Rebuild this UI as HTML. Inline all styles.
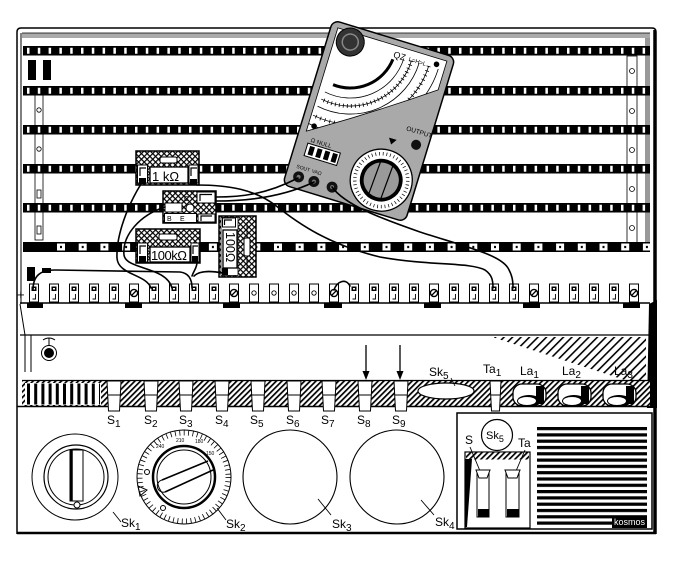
<!DOCTYPE html>
<html><head><meta charset="utf-8">
<style>
html,body{margin:0;padding:0;background:#fff;width:681px;height:561px;overflow:hidden}
svg{display:block}
text{font-family:"Liberation Sans",sans-serif;fill:#000}
</style></head><body>
<svg width="681" height="561" viewBox="0 0 681 561" xmlns="http://www.w3.org/2000/svg">
<defs>
 <pattern id="hatch" width="4" height="4" patternUnits="userSpaceOnUse" patternTransform="rotate(45)">
  <rect width="4" height="4" fill="#fff"/><rect width="1.7" height="4" fill="#000"/>
 </pattern>
 <pattern id="xhatch" width="4" height="4" patternUnits="userSpaceOnUse" patternTransform="rotate(45)">
  <rect width="4" height="4" fill="#fff"/><rect width="1.2" height="4" fill="#000"/><rect width="4" height="1.2" fill="#000"/>
 </pattern>
 <pattern id="shade" width="6" height="6" patternUnits="userSpaceOnUse" patternTransform="rotate(45)">
  <rect width="6" height="6" fill="#fff"/><rect width="1.6" height="6" fill="#000"/>
 </pattern>
 <pattern id="term" x="0" y="0" width="20" height="561" patternUnits="userSpaceOnUse">
  <rect x="9.5" y="284" width="9" height="18" fill="#fff" stroke="#000" stroke-width="1"/>
  <rect x="11.5" y="286.5" width="5" height="4.5" fill="#000"/>
  <rect x="13" y="288" width="2" height="1.5" fill="#fff"/>
  <path d="M15.5,294 V299 H12.5" fill="none" stroke="#000" stroke-width="0.9"/>
 </pattern>
 <pattern id="grille" x="0" y="427" width="10" height="6.3" patternUnits="userSpaceOnUse">
  <rect width="10" height="3.2" fill="#000"/>
 </pattern>
 <clipPath id="fc"><path d="M-57,-80 H57 V-50 Q0,-8 -57,28 Z"/></clipPath>
</defs>

<!-- frame -->
<path d="M17,534 V32 Q17,28 21,28 H652 Q656,28 656,32 V534" fill="none" stroke="#000" stroke-width="1.5"/>
<line x1="21" y1="33" x2="21" y2="304" stroke="#000" stroke-width="1"/>
<rect x="22" y="33" width="628" height="5" fill="#aaa"/>
<line x1="22" y1="33" x2="650" y2="33" stroke="#000" stroke-width="0.8"/>
<rect x="645" y="38" width="5" height="212" fill="#999"/>
<line x1="654.5" y1="30" x2="654.5" y2="534" stroke="#000" stroke-width="2.5"/>

<!-- side strips -->
<rect x="28" y="60" width="8" height="20" fill="#000"/>
<rect x="43" y="60" width="8" height="20" fill="#000"/>
<rect x="35" y="95" width="8" height="145" fill="#fff" stroke="#000" stroke-width="0.8"/>
<g fill="#fff" stroke="#000" stroke-width="0.8">
 <circle cx="39" cy="110" r="2.2"/><circle cx="39" cy="149" r="2.2"/>
 <rect x="37" y="190" width="4" height="8"/><rect x="37" y="226" width="4" height="8"/>
</g>
<rect x="627" y="56" width="10" height="189" fill="#fff" stroke="#000" stroke-width="0.8"/>
<g fill="#fff" stroke="#000" stroke-width="0.8">
 <circle cx="632" cy="71" r="2.5"/><circle cx="632" cy="111" r="2.5"/><circle cx="632" cy="150" r="2.5"/>
 <circle cx="632" cy="189" r="2.5"/><circle cx="632" cy="228" r="2.5"/>
</g>

<!-- rails -->
<g>
 <rect x="23" y="46" width="627" height="9.5" fill="#000"/>
 <line x1="23" y1="50.75" x2="650" y2="50.75" stroke="#fff" stroke-width="6" stroke-dasharray="2.5 8.3" stroke-dashoffset="-4"/>
 <rect x="23" y="86" width="627" height="9.5" fill="#000"/>
 <line x1="23" y1="90.75" x2="650" y2="90.75" stroke="#fff" stroke-width="6" stroke-dasharray="2.5 8.3" stroke-dashoffset="-4"/>
 <rect x="23" y="125" width="627" height="9.5" fill="#000"/>
 <line x1="23" y1="129.75" x2="650" y2="129.75" stroke="#fff" stroke-width="6" stroke-dasharray="2.5 8.3" stroke-dashoffset="-4"/>
 <rect x="23" y="164" width="627" height="9.5" fill="#000"/>
 <line x1="23" y1="168.75" x2="650" y2="168.75" stroke="#fff" stroke-width="6" stroke-dasharray="2.5 8.3" stroke-dashoffset="-4"/>
 <rect x="23" y="203" width="627" height="9.5" fill="#000"/>
 <line x1="23" y1="207.75" x2="650" y2="207.75" stroke="#fff" stroke-width="6" stroke-dasharray="2.5 8.3" stroke-dashoffset="-4"/>
 <rect x="23" y="242" width="627" height="10" fill="#000"/>
 <line x1="57" y1="247" x2="650" y2="247" stroke="#fff" stroke-width="7" stroke-dasharray="8 13.7"/>
 <line x1="60" y1="247" x2="650" y2="247" stroke="#000" stroke-width="2.2" stroke-dasharray="2 19.7"/>
</g>

<!-- terminal strip -->
<rect x="27" y="267" width="8" height="14" fill="#000"/>
<rect x="42" y="268" width="9" height="5" fill="#000"/>
<text x="17" y="299" font-size="13">+</text>
<rect x="28" y="283" width="612" height="20" fill="url(#term)"/>
<g fill="#fff" stroke="#000">
 <g stroke-width="1"><rect x="129.5" y="284" width="9" height="18"/><rect x="229.5" y="284" width="9" height="18"/><rect x="329.5" y="284" width="9" height="18"/><rect x="429.5" y="284" width="9" height="18"/><rect x="529.5" y="284" width="9" height="18"/><rect x="629.5" y="284" width="9" height="18"/>
 <rect x="249.5" y="284" width="9" height="18"/><rect x="269.5" y="284" width="9" height="18"/><rect x="289.5" y="284" width="9" height="18"/><rect x="309.5" y="284" width="9" height="18"/></g>
 <g stroke-width="1.4"><circle cx="134" cy="293" r="3.6"/><circle cx="234" cy="293" r="3.6"/><circle cx="334" cy="293" r="3.6"/><circle cx="434" cy="293" r="3.6"/><circle cx="534" cy="293" r="3.6"/><circle cx="634" cy="293" r="3.6"/></g>
 <g stroke-width="0.9"><circle cx="254" cy="293" r="2.2"/><circle cx="274" cy="293" r="2.2"/><circle cx="294" cy="293" r="2.2"/><circle cx="314" cy="293" r="2.2"/></g>
</g>
<path d="M131.5,295.5 L136.5,290.5 M231.5,295.5 L236.5,290.5 M331.5,295.5 L336.5,290.5 M431.5,295.5 L436.5,290.5 M531.5,295.5 L536.5,290.5 M631.5,295.5 L636.5,290.5" stroke="#000" stroke-width="1.3"/>
<g fill="#000">
 <rect x="27" y="302.5" width="16" height="5.5"/><rect x="125" y="302.5" width="17" height="5.5"/><rect x="223" y="302.5" width="17" height="5.5"/>
 <rect x="324" y="302.5" width="18" height="5.5"/><rect x="424" y="302.5" width="17" height="5.5"/><rect x="523" y="302.5" width="17" height="5.5"/><rect x="623" y="302.5" width="17" height="5.5"/>
</g>
<line x1="20" y1="303" x2="650" y2="303" stroke="#000" stroke-width="1.5"/>

<!-- components -->
<g stroke="#000">
 <!-- 1k -->
 <rect x="136" y="151" width="63" height="34" fill="url(#xhatch)" stroke-width="1.5"/>
 <rect x="160" y="157" width="17" height="6" rx="2" fill="#fff" stroke-width="1"/>
 <rect x="137.5" y="165" width="10" height="18" fill="#fff" stroke-width="1"/>
 <path d="M146,168 H140 V176" fill="none" stroke-width="1.2"/>
 <rect x="139" y="178" width="7" height="6" fill="#000" stroke="none"/>
 <rect x="150" y="167" width="38" height="16" fill="#fff" stroke-width="1.3"/>
 <rect x="189" y="165" width="9" height="18" fill="#fff" stroke-width="1"/>
 <path d="M197,168 H191 V176" fill="none" stroke-width="1.2"/>
 <rect x="190" y="179" width="7" height="6" fill="#000" stroke="none"/>
 <!-- transistor -->
 <rect x="163" y="191" width="53" height="32" fill="url(#xhatch)" stroke-width="1.5"/>
 <rect x="197" y="192" width="18" height="11" fill="#fff" stroke-width="1"/>
 <path d="M212,194.5 H200 V201" fill="none" stroke-width="1.2"/>
 <rect x="165" y="203" width="17" height="9" fill="#fff" stroke-width="1"/>
 <circle cx="190" cy="208" r="4" fill="#fff" stroke-width="1"/>
 <rect x="164.5" y="213.5" width="32" height="9" fill="#fff" stroke-width="1"/>
 <rect x="198" y="214" width="17" height="8" fill="#fff" stroke-width="1"/>
 <path d="M212,216 H201 V221" fill="none" stroke-width="1.2"/>
 <!-- 100k -->
 <rect x="136" y="229" width="64" height="34" fill="url(#xhatch)" stroke-width="1.5"/>
 <rect x="159" y="234" width="18" height="6" rx="2" fill="#fff" stroke-width="1"/>
 <rect x="137.5" y="243" width="10" height="19" fill="#fff" stroke-width="1"/>
 <path d="M146,246 H140 V254" fill="none" stroke-width="1.2"/>
 <rect x="139" y="256" width="7" height="6" fill="#000" stroke="none"/>
 <rect x="150" y="247" width="40" height="15" fill="#fff" stroke-width="1.3"/>
 <rect x="191" y="243" width="8" height="19" fill="#fff" stroke-width="1"/>
 <path d="M198,246 H193 V254" fill="none" stroke-width="1.2"/>
 <rect x="192" y="256" width="6" height="6" fill="#000" stroke="none"/>
 <!-- 100 ohm -->
 <rect x="219" y="216" width="37" height="61" fill="url(#xhatch)" stroke-width="1.5"/>
 <rect x="221" y="217.5" width="17" height="58" fill="#fff" stroke-width="0.8"/>
 <rect x="222.5" y="218" width="13" height="9" fill="#fff" stroke-width="1"/>
 <path d="M224.5,225 V220 H232" fill="none" stroke-width="1.2"/>
 <rect x="223" y="230" width="14" height="38" fill="#fff" stroke-width="1.3"/>
 <rect x="222" y="268" width="6" height="7" fill="#000" stroke="none"/>
 <line x1="247" y1="222" x2="247" y2="270" stroke-width="1"/>
 <rect x="244" y="238" width="6" height="18" rx="2" fill="#fff" stroke-width="1"/>
</g>
<text x="152" y="181" font-size="13">1 kΩ</text>
<text x="151" y="260" font-size="13" letter-spacing="-0.5">100kΩ</text>
<text x="226" y="232" font-size="12.5" transform="rotate(90 226 232)">100Ω</text>
<text x="167" y="221" font-size="7">B</text><text x="180" y="221" font-size="7">E</text>
<text x="184" y="201" font-size="7">C</text>

<!-- multimeter -->
<g transform="translate(369,121) rotate(17)">
 <rect x="-64" y="-86" width="128" height="172" rx="7" fill="#a9a9a9" stroke="#000" stroke-width="1.5"/>
 <path d="M-57,-80 H57 V-50 Q0,-8 -57,28 Z" fill="#fff" stroke="#000" stroke-width="0.8"/>
 <g clip-path="url(#fc)" fill="none" stroke="#000">
  <path d="M4.8,-66 A46,46 0 0 1 -45,-24.2" stroke-width="3"/>
  <path d="M15,-70 A56,56 0 0 1 -50.7,-14.9" stroke-width="0.8"/>
  <path d="M23,-70 A64,64 0 0 1 -52.1,-7" stroke-width="0.8"/>
  <path d="M23,-70 A64,64 0 0 1 -52.1,-7" stroke-width="4" stroke-dasharray="0.8 3.2"/>
  <path d="M31,-70 A72,72 0 0 1 -53.5,0.9" stroke-width="0.8"/>
  <path d="M41,-70 A82,82 0 0 1 -55.2,10.8" stroke-width="0.8"/>
  <path d="M41,-70 A82,82 0 0 1 -55.2,10.8" stroke-width="4" stroke-dasharray="0.8 4"/>
  <path d="M51,-70 A92,92 0 0 1 -57,20" stroke-width="0.8"/>
 </g>
 <circle cx="-41" cy="-70" r="14" fill="#333" stroke="#000"/>
 <circle cx="-41" cy="-70" r="8" fill="none" stroke="#888" stroke-width="1.5"/>
 <text x="4" y="-68" font-size="9">QZ</text>
 <text x="20" y="-69" font-size="6">L=H=L</text>
 <circle cx="48" cy="-74" r="2.8" fill="#000"/>
 <circle cx="-51" cy="21" r="2.8" fill="#000"/>
 <text x="38" y="-2" font-size="6.5">OUTPUT</text>
 <circle cx="52" cy="9" r="5" fill="#111"/>
 <path d="M24,10 H32 L28,16 Z" fill="#000"/>
 <circle cx="29" cy="53" r="31" fill="#fff" stroke="#000" stroke-width="1.3"/>
 <circle cx="29" cy="53" r="26.5" fill="none" stroke="#000" stroke-width="3.5" stroke-dasharray="0.7 3"/>
 <circle cx="29" cy="53" r="19.5" fill="#9a9a9a" stroke="#000" stroke-width="3.8"/>
 <path d="M23,35 L21,71 M36,35 L34,71" stroke="#000" stroke-width="1.2"/>
 <text x="-50" y="37" font-size="6">Ω NULL</text>
 <rect x="-52" y="39" width="34" height="13" fill="#fff" stroke="#000"/>
 <g fill="#000"><rect x="-49" y="41" width="5" height="9"/><rect x="-41" y="41" width="5" height="9"/><rect x="-33" y="41" width="5" height="9"/><rect x="-25" y="41" width="5" height="9"/></g>
 <text x="-56" y="66" font-size="5">SOUT</text><text x="-40" y="66" font-size="5">VAΩ</text>
 <circle cx="-51" cy="74" r="5.5" fill="#111"/><circle cx="-35" cy="74" r="5.5" fill="#111"/><circle cx="-16" cy="74" r="5.5" fill="#111"/>
 <circle cx="-51" cy="74" r="2" fill="#777"/><circle cx="-35" cy="74" r="2" fill="#777"/><circle cx="-16" cy="74" r="2" fill="#777"/>
</g>

<!-- wires -->
<g fill="none" stroke="#000" stroke-width="1.6" stroke-linecap="round">
 <path d="M141,184 C128,205 116,235 117,258 C118,275 146,274 151,288"/>
 <path d="M165,207 C140,215 122,235 124,255 C126,270 166,266 172,288"/>
 <path d="M33,290 C33,276 40,270 55,270 L180,272 C188,273 192,278 192,288"/>
 <path d="M197,262 C197,268 194,270 192,276"/>
 <path d="M223,273 C212,271 200,270 194,276"/>
 <path d="M197,185 C230,185 255,190 275,205 C300,225 330,245 380,257 C430,266 470,262 485,270 C492,275 493,280 493,288"/>
 <path d="M216,197 C240,197 265,195 298,178"/>
 <path d="M216,201 C250,201 285,196 314,182"/>
 <path d="M332,187 C345,205 380,218 420,232 C470,248 500,255 508,268 C512,275 513,280 513,288"/>
 <path d="M334,290 C337,281 346,278 350,286"/>
</g>

<!-- middle section -->
<path d="M20,304 L25,335 V372 M31,335 V372" fill="none" stroke="#000" stroke-width="1"/>
<line x1="20" y1="335" x2="650" y2="335" stroke="#000" stroke-width="1.2"/>
<circle cx="49" cy="353" r="7.5" fill="#fff" stroke="#000" stroke-width="1"/>
<circle cx="49" cy="353" r="5" fill="#000"/>
<path d="M43,340 Q49,336 55,340 M49,338 V346" fill="none" stroke="#000" stroke-width="1"/>
<polygon points="492,337 646,337 646,383 634,383" fill="url(#shade)"/>
<polygon points="649,304 657,300 657,408 647,408" fill="#000"/>
<line x1="366" y1="345" x2="366" y2="374" stroke="#000" stroke-width="1.3"/>
<polygon points="362.5,371 369.5,371 366,380" fill="#000"/>
<line x1="400" y1="345" x2="400" y2="374" stroke="#000" stroke-width="1.3"/>
<polygon points="396.5,371 403.5,371 400,380" fill="#000"/>

<!-- key strip -->
<rect x="22" y="381" width="628" height="25" fill="url(#hatch)"/>
<line x1="22" y1="380.5" x2="650" y2="380.5" stroke="#000" stroke-width="1.2"/>
<line x1="17" y1="406.5" x2="656" y2="406.5" stroke="#000" stroke-width="1.5"/>
<rect x="25" y="383" width="76" height="22" fill="#fff"/>
<line x1="27" y1="394" x2="100" y2="394" stroke="#000" stroke-width="21" stroke-dasharray="3 4.2"/>
<ellipse cx="446" cy="391" rx="28" ry="8" fill="#fff" stroke="#000" stroke-width="1.2"/>
<g fill="#fff" stroke="#000" stroke-width="1">
 <path d="M107,381 H121 L119.5,411 H108.5 Z M144,381 H158 L156.5,411 H145.5 Z M179,381 H193 L191.5,411 H180.5 Z M215,381 H229 L227.5,411 H216.5 Z M251,381 H265 L263.5,411 H252.5 Z M287,381 H301 L299.5,411 H288.5 Z M322,381 H336 L334.5,411 H323.5 Z M358,381 H372 L370.5,411 H359.5 Z M394,381 H408 L406.5,411 H395.5 Z M490,381 H501 L499.5,411 H491.5 Z"/>
 <path d="M108,395 H120 M145,395 H157 M180,395 H192 M216,395 H228 M252,395 H264 M288,395 H300 M323,395 H335 M359,395 H371 M395,395 H407 M491,395 H500" fill="none"/>
</g>
<g>
 <rect x="513" y="384" width="33" height="22" rx="9" fill="#fff" stroke="#000" stroke-width="1.3"/>
 <rect x="536" y="386" width="8" height="18" fill="#000"/>
 <ellipse cx="529" cy="401" rx="12" ry="6" fill="#000"/>
 <ellipse cx="527" cy="401" rx="9" ry="4" fill="#fff"/>
 <rect x="558" y="384" width="33" height="22" rx="9" fill="#fff" stroke="#000" stroke-width="1.3"/>
 <rect x="581" y="386" width="8" height="18" fill="#000"/>
 <ellipse cx="574" cy="401" rx="12" ry="6" fill="#000"/>
 <ellipse cx="572" cy="401" rx="9" ry="4" fill="#fff"/>
 <rect x="603" y="384" width="33" height="22" rx="9" fill="#fff" stroke="#000" stroke-width="1.3"/>
 <rect x="626" y="386" width="8" height="18" fill="#000"/>
 <ellipse cx="619" cy="401" rx="12" ry="6" fill="#000"/>
 <ellipse cx="617" cy="401" rx="9" ry="4" fill="#fff"/>
</g>
<text x="429" y="376" font-size="12">Sk<tspan font-size="10" dy="3">5</tspan></text>
<line x1="451" y1="378" x2="455" y2="386" stroke="#000" stroke-width="0.8"/>
<text x="483" y="373" font-size="12">Ta<tspan font-size="10" dy="3">1</tspan></text>
<text x="520" y="375" font-size="12">La<tspan font-size="10" dy="3">1</tspan></text>
<text x="562" y="375" font-size="12">La<tspan font-size="10" dy="3">2</tspan></text>
<text x="614" y="375" font-size="12">La<tspan font-size="10" dy="3">3</tspan></text>

<!-- bottom panel -->
<line x1="17" y1="533" x2="656" y2="533" stroke="#000" stroke-width="2.5"/>
<g font-size="12">
 <text x="107" y="424">S<tspan font-size="10" dy="3">1</tspan></text>
 <text x="144" y="424">S<tspan font-size="10" dy="3">2</tspan></text>
 <text x="179" y="424">S<tspan font-size="10" dy="3">3</tspan></text>
 <text x="215" y="424">S<tspan font-size="10" dy="3">4</tspan></text>
 <text x="250" y="424">S<tspan font-size="10" dy="3">5</tspan></text>
 <text x="286" y="424">S<tspan font-size="10" dy="3">6</tspan></text>
 <text x="321" y="424">S<tspan font-size="10" dy="3">7</tspan></text>
 <text x="357" y="424">S<tspan font-size="10" dy="3">8</tspan></text>
 <text x="392" y="424">S<tspan font-size="10" dy="3">9</tspan></text>
</g>
<!-- Sk1 -->
<circle cx="75" cy="477" r="43" fill="#fff" stroke="#000" stroke-width="1"/>
<circle cx="76" cy="477" r="32" fill="#fff" stroke="#000" stroke-width="1.2"/>
<circle cx="76" cy="477" r="28" fill="none" stroke="#000" stroke-width="1"/>
<rect x="70" y="450" width="13" height="51" fill="#fff" stroke="#000" stroke-width="1"/>
<line x1="71.5" y1="450" x2="71.5" y2="501" stroke="#000" stroke-width="2.5"/>
<circle cx="77" cy="505" r="3" fill="#fff" stroke="#000" stroke-width="1"/>
<line x1="113" y1="512" x2="121" y2="522" stroke="#000" stroke-width="0.9"/>
<text x="121" y="527" font-size="12">Sk<tspan font-size="10" dy="3">1</tspan></text>
<!-- Sk2 -->
<circle cx="184" cy="477" r="47" fill="#fff" stroke="#000" stroke-width="1"/>
<circle cx="184" cy="477" r="44" fill="none" stroke="#000" stroke-width="5" stroke-dasharray="0.8 3.6"/>
<circle cx="184" cy="477" r="31" fill="#fff" stroke="#000" stroke-width="2.5"/>
<circle cx="184" cy="477" r="27" fill="none" stroke="#000" stroke-width="1"/>
<path d="M162,480 L208,461 M165,492 L213,470" stroke="#000" stroke-width="1.6"/>
<path d="M162,480 A6,6 0 0 0 165,492" fill="none" stroke="#000" stroke-width="1"/>
<path d="M138,486 L147,490 L140,496 Z" fill="none" stroke="#000" stroke-width="1"/>
<circle cx="147" cy="472" r="2.5" fill="none" stroke="#000" stroke-width="1"/>
<circle cx="163" cy="508" r="2.5" fill="none" stroke="#000" stroke-width="1"/>
<g font-size="5"><text x="176" y="442">210</text><text x="195" y="443">180</text><text x="156" y="448">240</text><text x="206" y="455">150</text></g>
<line x1="217" y1="508" x2="226" y2="520" stroke="#000" stroke-width="0.9"/>
<text x="226" y="528" font-size="12">Sk<tspan font-size="10" dy="3">2</tspan></text>
<!-- Sk3, Sk4 -->
<circle cx="290" cy="477" r="47" fill="#fff" stroke="#000" stroke-width="1.1"/>
<line x1="318" y1="499" x2="331" y2="515" stroke="#000" stroke-width="0.9"/>
<text x="332" y="528" font-size="12">Sk<tspan font-size="10" dy="3">3</tspan></text>
<circle cx="397" cy="477" r="47" fill="#fff" stroke="#000" stroke-width="1.1"/>
<line x1="421" y1="500" x2="434" y2="515" stroke="#000" stroke-width="0.9"/>
<text x="435" y="526" font-size="12">Sk<tspan font-size="10" dy="3">4</tspan></text>
<!-- right box -->
<rect x="457" y="413" width="195" height="116" fill="#fff" stroke="#000" stroke-width="1.5"/>
<circle cx="497" cy="435" r="15.5" fill="#fff" stroke="#000" stroke-width="1.2"/>
<text x="486" y="439" font-size="11">Sk<tspan font-size="9" dy="3">5</tspan></text>
<text x="465" y="444" font-size="12">S</text>
<text x="518" y="447" font-size="12">Ta</text>
<rect x="465" y="452" width="65" height="76" fill="#fff" stroke="#000" stroke-width="1.2"/>
<rect x="466" y="452.5" width="63" height="7" fill="url(#hatch)"/>
<polygon points="465,459 472,459 467,527 465,527" fill="#000"/>
<line x1="470" y1="447" x2="480" y2="471" stroke="#000" stroke-width="0.9"/>
<line x1="525" y1="450" x2="516" y2="471" stroke="#000" stroke-width="0.9"/>
<g fill="#fff" stroke="#000" stroke-width="1">
 <rect x="477" y="470" width="12" height="47"/>
 <path d="M476,470 H490 L487,478 H479 Z"/>
 <rect x="506" y="470" width="13" height="47"/>
 <path d="M505,470 H520 L517,478 H508 Z"/>
</g>
<rect x="478" y="509" width="11" height="8" fill="#000"/>
<rect x="507" y="509" width="12" height="8" fill="#000"/>
<rect x="537" y="427" width="110" height="100" fill="url(#grille)"/>
<rect x="612" y="516" width="35" height="12" fill="#000"/>
<text x="614" y="525" font-size="9" style="fill:#fff">kosmos</text>
</svg>
</body></html>
